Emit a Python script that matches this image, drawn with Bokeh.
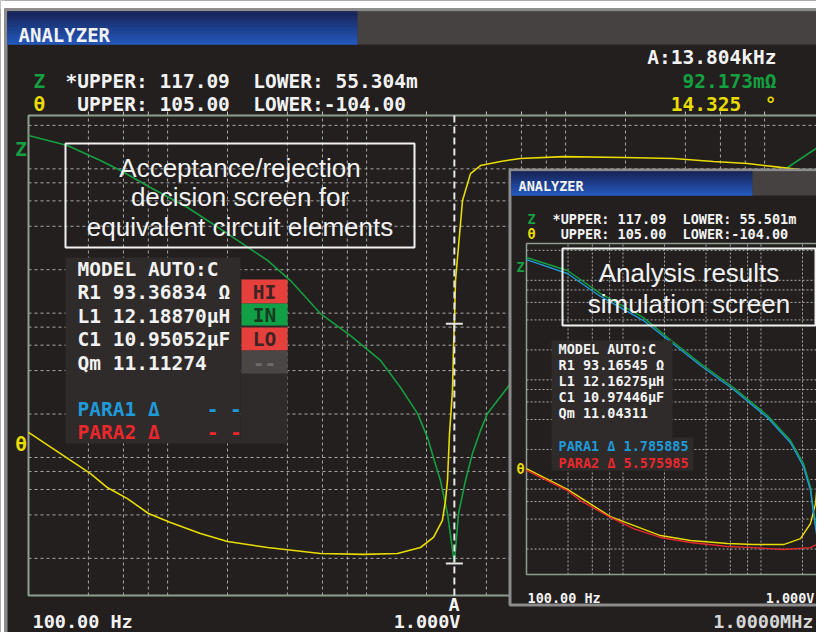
import numpy as np
from bokeh.plotting import figure
from bokeh.models import Range1d, LogScale, LinearScale
from bokeh.core.properties import value
from bokeh.embed import file_html
from bokeh.resources import INLINE

# ---------------- data ----------------
F_START = 100.0
F_STOP = 1.0e6
GRID_MULT = [1, 2, 3, 4, 5]

Z_UPPER = 117.09
Z_LOWER = 0.055304
Z_LOWER_SIM = 0.055501
TH_UPPER = 105.0
TH_LOWER = -104.0

MARKER_F = 13804.0
MARKER_Z = 0.092173
MARKER_TH = 14.325

# main screen: measured impedance |Z| (ohm) and phase (deg)
main_z_freq = [100, 157, 230, 290, 410, 630, 1000, 1589, 2073, 2931, 4149, 5873, 7396,
               9010, 10120, 10840, 11750, 12750, 13804, 14480, 15700, 17020, 18680,
               20260, 25530, 41980, 74820, 133600, 238300, 424600, 651600, 988000]
main_z = [85.0, 72.5, 57.1, 48.7, 37.1, 27.0, 17.8, 11.6, 8.41, 4.97, 3.50, 2.35, 1.53,
          1.01, 0.687, 0.499, 0.346, 0.204, 0.0922, 0.204, 0.346, 0.532, 0.768,
          1.01, 1.53, 3.79, 7.17, 12.5, 21.9, 35.4, 51.1, 74.9]
main_th_freq = [100, 205, 249, 314, 401, 517, 731, 1000, 1589, 2931, 4820, 7145, 9330,
                10840, 12020, 12460, 12750, 13050, 13510, 13670, 13804, 13990, 15170,
                16640, 18680, 23530, 29650, 48800, 97700, 174200, 276500, 410000,
                601000, 988000]
main_th = [-33.0, -50.9, -57.0, -61.8, -68.3, -72.2, -77.0, -80.5, -83.1, -85.7, -86.1,
           -85.7, -83.1, -78.7, -71.3, -62.6, -53.9, -33.5, -14.7, 4.0, 14.3, 33.2, 68.0,
           79.7, 83.2, 85.0, 86.3, 87.1, 86.7, 86.3, 85.0, 84.1, 82.4, 80.2]

# simulation screen: measured and simulated curves
sim_zm_freq = [100, 198, 344, 704, 1052, 1824, 3162, 5572, 8185, 10170, 11430, 12020,
               12850, 13730, 14190, 14420, 15700, 20000]
sim_zm = [84.7, 62.7, 36.8, 21.1, 13.3, 7.30, 4.19, 2.19, 1.23, 0.723, 0.415, 0.244,
          0.1305, 0.086, 0.113, 0.164, 0.35, 1.0]
sim_zs_freq = [100, 198, 344, 704, 1052, 1824, 3162, 5572, 8185, 10170, 11430, 12020,
               12850, 13280, 13640, 13960, 14190, 15000, 20000]
sim_zs = [80.8, 58.5, 34.4, 19.7, 12.7, 6.97, 4.00, 2.09, 1.17, 0.674, 0.387, 0.227,
          0.122, 0.084, 0.0555, 0.084, 0.12, 0.3, 1.0]
sim_thm_freq = [100, 198, 406, 935, 1543, 2861, 4413, 7286, 9672, 11430, 12420, 13060,
                13390, 13730, 14080, 14320, 20000, 50000]
sim_thm = [-37.1, -50.3, -67.4, -79.4, -82.5, -84.4, -85.1, -85.1, -81.3, -71.8, -59.2,
           -38.3, 5.9, 41.9, 50.1, 56.4, 80.0, 86.0]
sim_ths_freq = [100, 198, 246, 406, 596, 935, 1543, 2861, 4413, 7286, 11430, 13060,
                13850, 14080, 14320, 20000, 50000]
sim_ths = [-38.3, -51.0, -57.3, -68.0, -75.0, -80.6, -83.8, -86.3, -87.0, -88.2, -87.0,
           -84.4, -69.9, 5.9, 86.1, 88.5, 88.5]

main_model = ["MODEL AUTO:C", "R1 93.36834 Ω", "L1 12.18870µH", "C1 10.95052µF", "Qm 11.11274"]
main_judge = ["HI", "IN", "LO", "--"]
sim_model = ["MODEL AUTO:C", "R1 93.16545 Ω", "L1 12.16275µH", "C1 10.97446µF", "Qm 11.04311"]
sim_para = ["1.785885", "5.575985"]

# ---------------- style ----------------
BG = "#231f1f"
PANEL = "#2f2b2a"
GRID = "#a9a9a9"
BOX = "#8e9e90"
GREEN = "#14a03f"
YELLOW = "#e8dc00"
BLUE = "#1f9ad8"
RED = "#e8282c"
WHITE = "#f2f2f2"
GREYBAR = "#464242"
FRAME = "#8c8c8c"
MONO = "DejaVu Sans Mono"
SANS = "Liberation Sans"
NB = "\u00a0"

# canvas pixel coordinates: x 0..816 (left->right), y 0..632 (top->bottom)
p = figure(width=816, height=632, x_range=Range1d(0, 816), y_range=Range1d(632, 0),
           min_border=0, toolbar_location=None, output_backend="svg",
           x_axis_location=None, y_axis_location=None,
           background_fill_color=BG, border_fill_color=BG, outline_line_color=None)
p.grid.visible = False


def log_span(v0, p0, v1, p1, lo, hi):
    a0, a1 = np.log10(v0), np.log10(v1)
    k = (a1 - a0) / (p1 - p0)
    return float(10 ** (a0 + (lo - p0) * k)), float(10 ** (a0 + (hi - p0) * k))


def lin_span(v0, p0, v1, p1, lo, hi):
    k = (v1 - v0) / (p1 - p0)
    return float(v0 + (lo - p0) * k), float(v0 + (hi - p0) * k)


# main plot box: x 28..824, y 115..595 ; sim plot box: x 526.., y 243..574
mx = log_span(F_START, 28, F_STOP, 824, 0, 816)
mz = log_span(Z_UPPER, 115, Z_LOWER, 595, 632, 0)
mt = lin_span(TH_UPPER, 115, TH_LOWER, 595, 632, 0)
ix = log_span(F_START, 526, 1000.0, 664, 0, 816)
iz = log_span(Z_UPPER, 243, Z_LOWER_SIM, 574, 632, 0)
it = lin_span(TH_UPPER, 243, TH_LOWER, 574, 632, 0)
p.extra_x_ranges = {"mf": Range1d(*mx), "if": Range1d(*ix)}
p.extra_x_scales = {"mf": LogScale(), "if": LogScale()}
p.extra_y_ranges = {"mz": Range1d(*mz), "mt": Range1d(*mt), "iz": Range1d(*iz), "it": Range1d(*it)}
p.extra_y_scales = {"mz": LogScale(), "mt": LinearScale(), "iz": LogScale(), "it": LinearScale()}


def txt(x, y, s, color=WHITE, size="19.5px", font=MONO, align="left", style="bold"):
    if font == MONO:
        s = s.replace(" ", NB)
    p.text(x=[x], y=[y], text=[s], text_color=color, text_font=value(font),
           text_font_size=size, text_font_style=style, text_align=align,
           text_baseline="middle")


def box(l, r, t, b, fill=None, line=None, lw=1):
    p.quad(left=[l], right=[r], top=[t], bottom=[b], fill_color=fill,
           line_color=line, line_width=lw)


def gradient_bar(l, r, t, b, c0, c1, n=14):
    ys = np.linspace(t, b, n + 1)
    cols = []
    for i in range(n):
        f = i / (n - 1)
        c = [int(c0[j] + (c1[j] - c0[j]) * f) for j in range(3)]
        cols.append("#%02x%02x%02x" % tuple(c))
    p.quad(left=[l] * n, right=[r] * n, top=list(ys[:-1]), bottom=list(ys[1:]),
           fill_color=cols, line_color=cols, line_width=0.6)


grid_f = [m * 10.0 ** k for k in range(2, 6) for m in GRID_MULT if F_START < m * 10.0 ** k < F_STOP]
grid_z_main = [m * 10.0 ** k for k in range(-2, 3) for m in GRID_MULT if Z_LOWER < m * 10.0 ** k < Z_UPPER]
grid_z_sim = [m * 10.0 ** k for k in range(-2, 3) for m in GRID_MULT if Z_LOWER_SIM < m * 10.0 ** k < Z_UPPER]

# ---------------- page edge + main screen ----------------
box(0, 816, 0, 8, fill="white")
box(0, 4, 0, 632, fill="white")
box(4, 816, 8, 11, fill=FRAME)
box(4, 7, 8, 632, fill=FRAME)
gradient_bar(7, 357, 11, 44, (24, 38, 92), (38, 88, 188))
box(357, 816, 11, 44, fill=GREYBAR)

p.segment(x0=grid_f, x1=grid_f, y0=[Z_LOWER] * len(grid_f), y1=[Z_UPPER] * len(grid_f),
          x_range_name="mf", y_range_name="mz", line_color=GRID, line_width=1, line_dash="3 3")
p.segment(x0=[F_START] * len(grid_z_main), x1=[F_STOP] * len(grid_z_main), y0=grid_z_main,
          y1=grid_z_main, x_range_name="mf", y_range_name="mz", line_color=GRID,
          line_width=1, line_dash="3 3")
tick_top = Z_UPPER * 10 ** (4 / 144.3)
p.segment(x0=grid_f, x1=grid_f, y0=[Z_UPPER] * len(grid_f), y1=[tick_top] * len(grid_f),
          x_range_name="mf", y_range_name="mz", line_color="#c8c8c8", line_width=1)
p.quad(left=[F_START], right=[F_STOP], bottom=[Z_LOWER], top=[Z_UPPER], fill_color=None,
       line_color=BOX, line_width=2, x_range_name="mf", y_range_name="mz")

p.line(main_z_freq, main_z, x_range_name="mf", y_range_name="mz", line_color=GREEN, line_width=1.6)
p.line(main_th_freq, main_th, x_range_name="mf", y_range_name="mt", line_color=YELLOW, line_width=1.6)

p.segment(x0=[MARKER_F], x1=[MARKER_F], y0=[Z_LOWER], y1=[Z_UPPER], x_range_name="mf",
          y_range_name="mz", line_color="#e6e6e6", line_width=2, line_dash="7 4")
p.scatter([MARKER_F], [MARKER_Z], marker="dash", size=17, line_color="#e6e6e6", line_width=2,
          x_range_name="mf", y_range_name="mz")
p.scatter([MARKER_F], [MARKER_TH], marker="dash", size=17, line_color="#e6e6e6", line_width=2,
          x_range_name="mf", y_range_name="mt")

# decision panel
box(65, 240, 257, 443, fill=PANEL)
box(240, 287, 279, 443, fill=PANEL)
judge_fill = ["#e5403c", "#12a046", "#e5403c", "#4a4646"]
judge_tops = [279, 303, 327, 350]
judge_bots = [303, 325, 350, 373]
judge_txt = ["#3c2424", "#173a22", "#3c2424", "#6e6a6a"]
for s, fc, t, b, tc in zip(main_judge, judge_fill, judge_tops, judge_bots, judge_txt):
    box(241, 287, t, b, fill=fc)
    txt(264, (t + b) / 2 + 0.5, s, color=tc, align="center")
for s, y in zip(main_model, [268.5, 292, 316, 339, 362.5]):
    txt(77, y, s)
txt(77, 409, "PARA1 Δ    - -", color=BLUE)
txt(77, 432, "PARA2 Δ    - -", color=RED)

box(65, 414, 143, 247, fill=None, line=WHITE, lw=2)
for s, y in zip(["Acceptance/rejection", "decision screen for", "equivalent circuit elements"],
                [167, 196.5, 226]):
    txt(239.5, y, s, font=SANS, size="26px", style="normal", align="center")

# header / footer texts
txt(18, 34, "ANALYZER", size="19px")
txt(33, 80.5, "Z", color=GREEN)
txt(33, 103.5, "θ", color=YELLOW)
txt(65, 80.5, "*UPPER: %.2f  LOWER: %.3fm" % (Z_UPPER, Z_LOWER * 1000))
txt(65, 103.5, " UPPER: %.2f  LOWER:%.2f" % (TH_UPPER, TH_LOWER))
txt(776, 57, "A:%.3fkHz" % (MARKER_F / 1000), align="right")
txt(776, 80.5, "%.3fmΩ" % (MARKER_Z * 1000), color=GREEN, align="right")
txt(776, 103.5, "%.3f  °" % MARKER_TH, color=YELLOW, align="right")
txt(20.5, 149, "Z", color=GREEN, align="center")
txt(20.5, 443.5, "θ", color=YELLOW, align="center")
txt(32, 620.5, "100.00 Hz", size="18.5px")
txt(460, 620.5, "1.000V", size="18.5px", align="right")
txt(453.5, 604, "A", size="18.5px", align="center")
txt(813, 620.5, "1.0000MHz", size="18.5px", align="right", color="#d6d6d6")

# ---------------- simulation screen (inset) ----------------
box(509.5, 830, 169.5, 604.5, fill=BG, line=FRAME, lw=3)
gradient_bar(511, 752, 171, 195, (24, 38, 92), (38, 88, 188), n=10)
box(752, 830, 171, 195, fill=GREYBAR)
txt(518, 185, "ANALYZER", size="13.5px")
txt(527, 218, "Z", color=GREEN, size="13.5px")
txt(527, 233.5, "θ", color=YELLOW, size="13.5px")
txt(552, 218, "*UPPER: %.2f  LOWER: %.3fm" % (Z_UPPER, Z_LOWER_SIM * 1000), size="13.5px")
txt(552, 233.5, " UPPER: %.2f  LOWER:%.2f" % (TH_UPPER, TH_LOWER), size="13.5px")

p.segment(x0=grid_f, x1=grid_f, y0=[Z_LOWER_SIM] * len(grid_f), y1=[Z_UPPER] * len(grid_f),
          x_range_name="if", y_range_name="iz", line_color=GRID, line_width=1, line_dash="2 2")
p.segment(x0=[F_START] * len(grid_z_sim), x1=[F_STOP] * len(grid_z_sim), y0=grid_z_sim,
          y1=grid_z_sim, x_range_name="if", y_range_name="iz", line_color=GRID,
          line_width=1, line_dash="2 2")
p.quad(left=[F_START], right=[F_STOP], bottom=[Z_LOWER_SIM], top=[Z_UPPER], fill_color=None,
       line_color=BOX, line_width=1.5, x_range_name="if", y_range_name="iz")

p.line(sim_thm_freq, sim_thm, x_range_name="if", y_range_name="it", line_color=YELLOW, line_width=1.4)
p.line(sim_ths_freq, sim_ths, x_range_name="if", y_range_name="it", line_color=RED, line_width=1.4)
p.line(sim_zm_freq, sim_zm, x_range_name="if", y_range_name="iz", line_color=GREEN, line_width=1.4)
p.line(sim_zs_freq, sim_zs, x_range_name="if", y_range_name="iz", line_color=BLUE, line_width=1.4)

txt(520, 266, "Z", color=GREEN, size="13.5px", align="center")
txt(520, 468, "θ", color=YELLOW, size="13.5px", align="center")

box(562, 815, 248, 325, fill=None, line=WHITE, lw=2)
txt(688.5, 272, "Analysis results", font=SANS, size="26px", style="normal", align="center")
txt(688.5, 303, "simulation screen", font=SANS, size="26px", style="normal", align="center")

box(551, 672, 340, 470, fill=PANEL)
box(672, 693, 437, 470, fill=PANEL)
for s, y in zip(sim_model, [348, 364.5, 380.5, 396.5, 412]):
    txt(558, y, s, size="13.5px")
txt(558, 445.5, "PARA1 Δ " + sim_para[0], color=BLUE, size="13.5px")
txt(558, 462, "PARA2 Δ " + sim_para[1], color=RED, size="13.5px")

txt(527, 597, "100.00 Hz", size="13.5px")
txt(814, 597, "1.000V", size="13.5px", align="right")

open("out.html", "w").write(file_html(p, INLINE))
